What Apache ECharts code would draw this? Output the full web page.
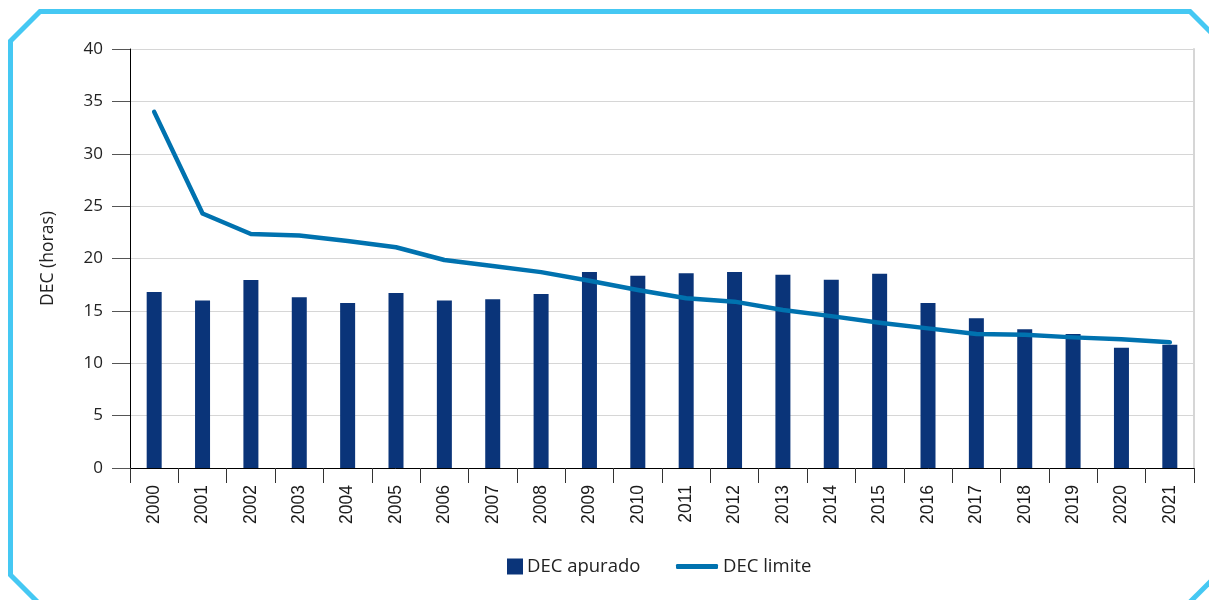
<!DOCTYPE html>
<html><head><meta charset="utf-8">
<script src="https://cdn.jsdelivr.net/npm/echarts@6/dist/echarts.min.js"></script>
<style>html,body{margin:0;padding:0;background:#fff}#c{width:1209px;height:600px}</style>
</head><body><div id="c"></div>
<script>
const years = ['2000','2001','2002','2003','2004','2005','2006','2007','2008','2009','2010','2011','2012','2013','2014','2015','2016','2017','2018','2019','2020','2021'];
const decApurado = [16.8,16.0,17.95,16.3,15.75,16.7,16.0,16.1,16.6,18.7,18.36,18.6,18.7,18.45,17.98,18.55,15.75,14.29,13.24,12.79,11.49,11.77];
const decLimite = [34.0,24.3,22.34,22.2,21.67,21.07,19.86,19.28,18.7,17.88,16.99,16.2,15.88,15.08,14.5,13.87,13.33,12.79,12.73,12.47,12.28,12.0];
const yTicks = {min:0, max:40, interval:5};

const chart = echarts.init(document.getElementById('c'), null, {renderer:'canvas'});
const frameColor = '#45C8F3';
chart.setOption({
  animation:false,
  backgroundColor:'#fff',
  grid:{left:130, right:15, top:49, bottom:132, containLabel:false},
  xAxis:{
    type:'category', data:years, boundaryGap:true,
    axisLine:{show:true, lineStyle:{color:'#000', width:1}},
    axisTick:{show:true, length:15, interval:0, lineStyle:{color:'#333'}},
    axisLabel:{interval:0, rotate:90, margin:17, fontFamily:'Liberation Sans', fontSize:17.5, color:'#1a1a1a'},
    splitLine:{show:false}
  },
  yAxis:[{
    type:'value', min:yTicks.min, max:yTicks.max, interval:yTicks.interval,
    name:'DEC (horas)', nameLocation:'middle', nameRotate:90, nameGap:73,
    nameTextStyle:{fontFamily:'Open Sans', fontSize:17.5, color:'#222'},
    axisLine:{show:true, lineStyle:{color:'#000', width:1}},
    axisTick:{show:true, length:18, lineStyle:{color:'#555'}},
    axisLabel:{margin:27, fontFamily:'Open Sans', fontSize:17, color:'#222'},
    splitLine:{show:true, lineStyle:{color:'#d6d6d6', width:1}}
  },{
    type:'value', position:'right', min:yTicks.min, max:yTicks.max, interval:yTicks.interval,
    axisLine:{show:true, lineStyle:{color:'#d6d6d6', width:2}},
    axisTick:{show:false}, axisLabel:{show:false}, splitLine:{show:false}
  }],
  legend:[{
    data:['DEC apurado'], left:507, top:557, padding:0, icon:'rect', itemWidth:16, itemHeight:16, itemGap:0,
    textStyle:{fontFamily:'Open Sans', fontSize:18.5, color:'#222', padding:[0,0,0,-1]}
  },{
    data:['DEC limite'], left:676, top:557, padding:0, icon:'roundRect', itemWidth:42, itemHeight:5, itemGap:0,
    textStyle:{fontFamily:'Open Sans', fontSize:18.5, color:'#222'}
  }],
  series:[{
    name:'DEC apurado', type:'bar', data:decApurado, barWidth:15,
    itemStyle:{color:'#0A3479'}
  },{
    name:'DEC limite', type:'line', data:decLimite, symbol:'none', smooth:false,
    lineStyle:{color:'#0072AF', width:4.5, cap:'round', join:'round'},
    itemStyle:{color:'#0072AF'}
  }],
  graphic:[{
    type:'polyline', silent:true,
    shape:{points:[[55.5,620],[10.5,575],[10.5,41],[40,11.5],[1190,11.5],[1230,51.5]]},
    style:{stroke:frameColor, lineWidth:5, fill:null}
  },{
    type:'polyline', silent:true,
    shape:{points:[[1172,620],[1229,563]]},
    style:{stroke:frameColor, lineWidth:5, fill:null}
  }]
});
</script></body></html>
